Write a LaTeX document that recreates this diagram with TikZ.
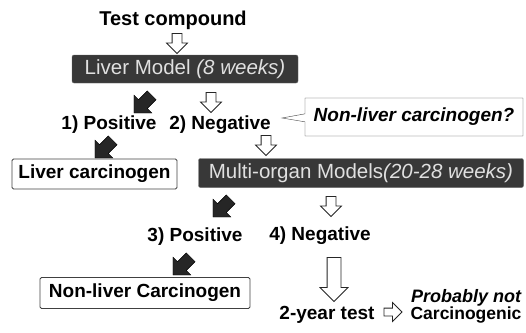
\documentclass[tikz,border=0pt]{standalone}
\usepackage{fontspec}
\setmainfont{Liberation Sans}
\usetikzlibrary{positioning,shapes.arrows,shapes.callouts,calc}

\tikzset{
  lbl/.style={inner sep=0.75pt, font=\fontsize{19}{21}\selectfont\bfseries},
  darkbox/.style={fill=black!78, draw=black!60, rounded corners=2pt, text=black!12,
    inner sep=0pt, font=\fontsize{20.5}{22}\selectfont},
  whitebox/.style={draw=black!75, thick, rounded corners=1.5pt, inner sep=0pt,
    font=\fontsize{19}{21}\selectfont\bfseries},
  hollowarrow/.style={single arrow, draw=black!85, thick, fill=white, inner sep=0pt,
    inner ysep=4.5pt, single arrow head extend=5.5pt, single arrow head indent=0pt,
    minimum height=20pt, rotate=-90},
  darkarrow/.style={single arrow, fill=black!85, draw=black, inner sep=0pt,
    inner ysep=6pt, single arrow head extend=6.5pt, minimum height=25pt, rotate=225},
}

\begin{document}
\begin{tikzpicture}[x=1pt,y=1pt,yscale=-1,xscale=1]
        \useasboundingbox (0,0) rectangle (526,332);
        % Text Node
        \node (test) at (173,20) [lbl, font=\fontsize{20}{22}\selectfont\bfseries] {Test compound};
        %Shape: Block Arrow
        \node (a1) at (177,41) [hollowarrow] {};
        %Shape: Dark Box
        \node (liver) at (185,69) [darkbox, minimum width=226pt, minimum height=28pt] {Liver Model \textit{(8 weeks)}};
        %Shape: Block Arrow
        \node (a2) at (145,102) [darkarrow] {};
        \node (a3) at (211,100) [hollowarrow] {};
        % Text Node
        \node (pos1) at (109,125) [lbl] {1) Positive};
        \node (neg2) at (220,125) [lbl] {2) Negative};
        %Shape: Callout
        \node (ask) at (414,117) [rectangle callout, draw=black!75, thin, inner sep=0pt,
            minimum width=218pt, minimum height=38pt, callout pointer width=8pt,
            callout absolute pointer={(282,118)},
            font=\fontsize{19}{21}\selectfont\bfseries\itshape] {Non-liver carcinogen?};
        %Shape: Block Arrow
        \node (a4) at (266,143) [hollowarrow] {};
        \node (a5) at (106,147) [darkarrow] {};
        %Shape: Result Box
        \node (livc) at (94.5,174) [whitebox, minimum width=165pt, minimum height=30pt] {Liver carcinogen};
        %Shape: Dark Box
        \node (multi) at (361,173) [darkbox, minimum width=325pt, minimum height=29pt] {Multi-organ Models\textit{(20-28 weeks)}};
        %Shape: Block Arrow
        \node (a6) at (224,206) [darkarrow] {};
        \node (a7) at (331,204) [hollowarrow] {};
        % Text Node
        \node (pos3) at (195,237) [lbl] {3) Positive};
        \node (neg4) at (320,236) [lbl] {4) Negative};
        %Shape: Block Arrow
        \node (a8) at (184,264) [darkarrow] {};
        \node (a9) at (334,276) [hollowarrow, inner ysep=6.5pt, single arrow head extend=7pt, minimum height=44pt] {};
        %Shape: Result Box
        \node (nlc) at (145,293) [whitebox, minimum width=210pt, minimum height=31pt] {Non-liver Carcinogen};
        % Text Node
        \node (two) at (327,315) [lbl] {2-year test};
        %Shape: Block Arrow
        \node (a10) at (391,312) [hollowarrow, rotate=90, minimum height=18pt, inner ysep=3.5pt] {};
        % Text Node
        \node (prob) at (466,298) [lbl, font=\fontsize{18}{20}\selectfont\bfseries\itshape] {Probably not};
        \node (carc) at (466,315) [lbl, font=\fontsize{17.5}{19}\selectfont\bfseries] {Carcinogenic};
\end{tikzpicture}
\end{document}
